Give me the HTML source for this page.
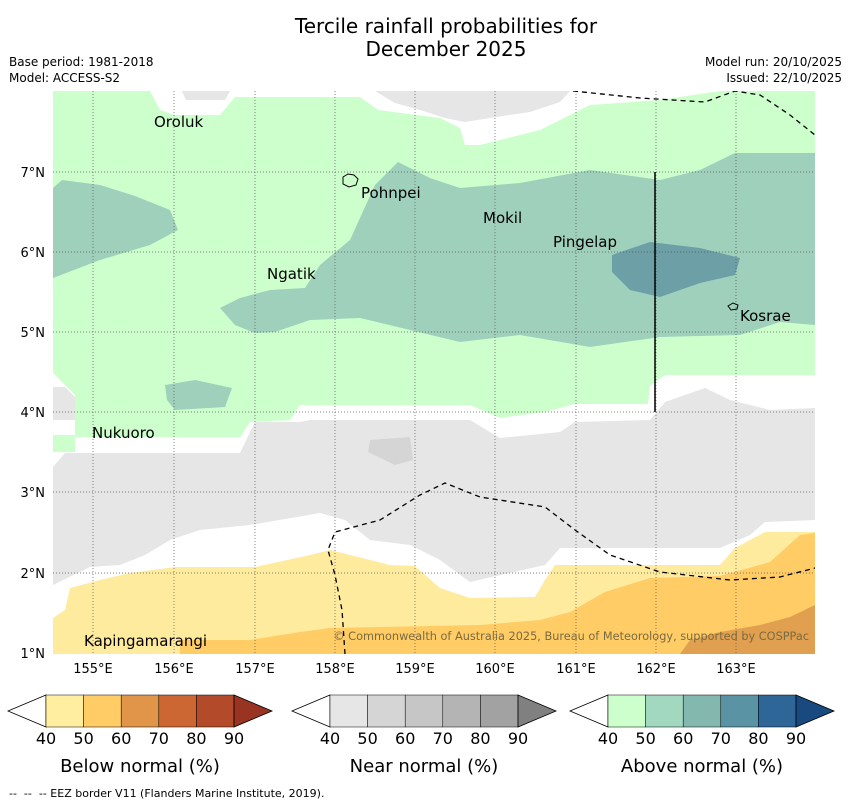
<!DOCTYPE html>
<html><head><meta charset="utf-8"><style>
body{margin:0;background:#fff;width:850px;height:804px;overflow:hidden;font-family:"Liberation Sans","DejaVu Sans",sans-serif}
svg{position:absolute;left:0;top:0}
</style></head><body>
<svg width="850" height="804" viewBox="0 0 850 804" font-family="DejaVu Sans, Liberation Sans, sans-serif">
<text x="446" y="33" font-size="20" text-anchor="middle">Tercile rainfall probabilities for</text>
<text x="446" y="56" font-size="20" text-anchor="middle">December 2025</text>
<text x="9" y="66" font-size="12">Base period: 1981-2018</text>
<text x="9" y="82" font-size="12">Model: ACCESS-S2</text>
<text x="842" y="66" font-size="12" text-anchor="end">Model run: 20/10/2025</text>
<text x="842" y="82" font-size="12" text-anchor="end">Issued: 22/10/2025</text>
<defs><clipPath id="mc"><rect x="53" y="91" width="762" height="563"/></clipPath></defs>
<g clip-path="url(#mc)">
<rect x="53" y="91" width="762" height="563" fill="#fff"/>
<polygon fill="#ccffcc" points="53,91 150,91 160,110 175,115 220,115 235,97 360,97 378,110 440,118 460,128 465,145 480,145 540,130 570,115 590,105 660,100 720,91 815,91 815,375 665,375 650,386 648,404 575,404 545,412 500,418 470,405 300,405 290,420 250,422 240,437 75,437 75,452 53,452 53,435 75,435 75,395 53,373"/>
<polygon fill="#e6e6e6" points="375,91 570,91 560,102 530,112 490,118 465,122 445,118 420,110 395,103"/>
<polygon fill="#e6e6e6" points="182,91 230,91 225,100 186,100"/>
<polygon fill="#9ed0bb" points="53,188 62,180 100,185 135,196 170,210 178,230 150,245 100,260 53,278"/>
<polygon fill="#9ed0bb" points="220,308 240,298 270,290 305,288 320,265 350,240 375,185 398,162 430,178 460,188 520,183 590,170 660,180 700,170 735,153 815,153 815,325 780,322 740,335 660,337 590,347 520,335 460,342 410,330 360,318 310,320 275,332 255,333 235,325"/>
<polygon fill="#9ed0bb" points="165,385 195,380 232,388 225,407 175,410 167,400"/>
<polygon fill="#6c9fa6" points="612,255 650,242 700,248 740,258 735,275 700,283 660,297 630,290 612,272"/>
<polygon fill="#e6e6e6" points="53,467 65,453 240,453 255,422 300,422 310,420 470,420 500,438 560,432 575,422 650,420 665,402 705,388 730,400 770,410 815,408 815,520 765,522 750,535 720,548 560,548 545,565 470,582 440,560 410,545 370,540 345,520 320,513 250,525 200,530 170,540 145,555 120,565 90,567 53,585"/>
<polygon fill="#e6e6e6" points="53,387 65,387 75,397 75,420 53,420"/>
<polygon fill="#d5d5d5" points="370,440 410,437 413,460 395,465 368,452"/>
<polygon fill="#ffeb9e" points="53,618 65,610 70,588 100,580 130,573 175,567 255,567 310,555 330,550 390,565 415,566 440,588 470,598 535,597 545,580 555,565 720,565 735,548 765,532 815,532 815,654 53,654"/>
<polygon fill="#ffcc66" points="180,640 250,640 300,632 330,628 480,625 540,620 570,612 605,592 650,578 720,576 770,562 800,535 815,533 815,654 180,654"/>
<polygon fill="#e0a050" points="680,654 690,640 720,632 760,625 790,617 815,605 815,654"/>
<g stroke="#555" stroke-width="0.7" stroke-dasharray="1,2">
<line x1="93" y1="91" x2="93" y2="654"/><line x1="174" y1="91" x2="174" y2="654"/><line x1="255" y1="91" x2="255" y2="654"/><line x1="335" y1="91" x2="335" y2="654"/><line x1="415" y1="91" x2="415" y2="654"/><line x1="495" y1="91" x2="495" y2="654"/><line x1="576" y1="91" x2="576" y2="654"/><line x1="656" y1="91" x2="656" y2="654"/><line x1="736" y1="91" x2="736" y2="654"/>
<line x1="53" y1="172" x2="815" y2="172"/><line x1="53" y1="252" x2="815" y2="252"/><line x1="53" y1="332" x2="815" y2="332"/><line x1="53" y1="412" x2="815" y2="412"/><line x1="53" y1="492" x2="815" y2="492"/><line x1="53" y1="573" x2="815" y2="573"/>
</g>
<g fill="none" stroke="#000" stroke-width="1.3" stroke-dasharray="5,4">
<polyline points="573,91 640,98 705,102 735,91 760,95 790,115 815,135"/>
<polyline points="345,654 342,610 335,575 328,550 335,532 380,520 420,495 445,483 480,497 545,507 575,530 610,555 660,572 730,580 780,577 815,568"/>
</g>
<line x1="655" y1="172" x2="655" y2="412" stroke="#000" stroke-width="1.5"/>
<path d="M343,177 l5,-3 6,1 4,4 -2,6 -7,2 -6,-3z" fill="none" stroke="#000"/>
<path d="M728,306 l5,-3 5,2 -1,4 -6,1z" fill="none" stroke="#000"/>
<g font-size="15" fill="#000">
<text x="154" y="127">Oroluk</text><text x="361" y="198">Pohnpei</text><text x="483" y="223">Mokil</text><text x="553" y="247">Pingelap</text><text x="267" y="279">Ngatik</text><text x="740" y="321">Kosrae</text><text x="92" y="438">Nukuoro</text><text x="84" y="646">Kapingamarangi</text>
</g>
<text x="809" y="640" font-size="11.3" fill="#7a6a40" text-anchor="end">© Commonwealth of Australia 2025, Bureau of Meteorology, supported by COSPPac</text>
</g>
<g font-size="13">
<g text-anchor="end"><text x="45" y="177">7°N</text><text x="45" y="257">6°N</text><text x="45" y="337">5°N</text><text x="45" y="417">4°N</text><text x="45" y="497">3°N</text><text x="45" y="578">2°N</text><text x="45" y="658">1°N</text></g>
<g text-anchor="middle"><text x="93" y="673">155°E</text><text x="174" y="673">156°E</text><text x="255" y="673">157°E</text><text x="335" y="673">158°E</text><text x="415" y="673">159°E</text><text x="495" y="673">160°E</text><text x="576" y="673">161°E</text><text x="656" y="673">162°E</text><text x="736" y="673">163°E</text></g>
</g>
<g id="bars"></g>
<text x="9" y="797" font-size="11" xml:space="preserve">--  --  -- EEZ border V11 (Flanders Marine Institute, 2019).</text>
</svg>
<script>
const ticks=["40","50","60","70","80","90"];
const barTitles=["Below normal (%)","Near normal (%)","Above normal (%)"];
const barColors=[["#ffeda0","#ffcc66","#e09548","#cc6633","#b34a2a","#993322"],["#e6e6e6","#d5d5d5","#c6c6c6","#b4b4b4","#a2a2a2","#808080"],["#ccffcc","#a2d8bf","#82b8ad","#5a93a3","#2f6698","#184a80"]];
const starts=[8,292,570];
const g=document.getElementById('bars');const NS="http://www.w3.org/2000/svg";
function mk(t,a){const e=document.createElementNS(NS,t);for(const k in a)e.setAttribute(k,a[k]);g.appendChild(e);return e;}
starts.forEach((x0,i)=>{const y0=695,h=32,tw=38,bw=37.6;const bx=x0+tw;
let t=mk('polygon',{points:`${x0},${y0+h/2} ${bx},${y0} ${bx},${y0+h}`,fill:'#fff',stroke:'#000','stroke-width':0.8});


for(let j=0;j<5;j++){const r=mk('rect',{x:bx+j*bw,y:y0,width:bw,height:h,fill:barColors[i][j],stroke:'#000','stroke-width':0.5});

}
const ex=bx+5*bw;
let t2=mk('polygon',{points:`${ex},${y0} ${ex+tw},${y0+h/2} ${ex},${y0+h}`,fill:barColors[i][5],stroke:'#000','stroke-width':0.8});


ticks.forEach((tk,j)=>{const tx=mk('text',{x:bx+j*bw,y:y0+h+17,'font-size':16,'text-anchor':'middle'});tx.textContent=tk;

});
const tt=mk('text',{x:bx+2.5*bw,y:772,'font-size':18,'text-anchor':'middle'});tt.textContent=barTitles[i];


});
</script>
</body></html>
